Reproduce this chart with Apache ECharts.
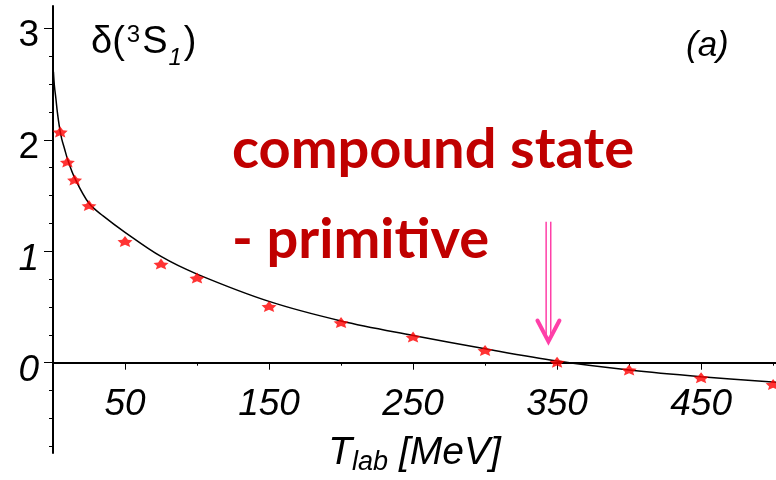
<!DOCTYPE html>
<html>
<head>
<meta charset="utf-8">
<script src="https://cdn.jsdelivr.net/npm/echarts@6/dist/echarts.min.js"></script>
<style>
html, body { margin: 0; padding: 0; background: #fff; }
#main { width: 776px; height: 480px; }
</style>
</head>
<body>
<div id="main"></div>
<script>
// red stars: phase shift points (rad) vs T_lab (MeV)
var dataT = [5, 10, 15, 25, 50, 75, 100, 150, 200, 250, 300, 350, 400, 450, 500];
var dataDelta = [2.07, 1.80, 1.64, 1.41, 1.088, 0.885, 0.76, 0.505, 0.36, 0.23, 0.11, 0.005, -0.065, -0.135, -0.195];

// black curve: compound state model
var curveT = [0.3, 1, 2, 3, 4.4, 6, 8, 10, 15, 25, 35, 50, 75, 100, 150, 200, 250, 300, 350, 400, 450, 502];
var curveDelta = [2.61, 2.48, 2.37, 2.25, 2.12, 2.01, 1.92, 1.83, 1.66, 1.43, 1.315, 1.17, 0.953, 0.795, 0.55, 0.375, 0.245, 0.125, 0.015, -0.065, -0.125, -0.175];

// tick positions
var xLabelTicks = [50, 150, 250, 350, 450];
var xMinorTicks = [100, 200, 300, 400, 500];
var yLabelTicks = [0, 1, 2, 3];
var yMinorTicks = [-0.75, -0.5, -0.25, 0.25, 0.5, 0.75, 1.25, 1.5, 1.75, 2.25, 2.5, 2.75];

// pink arrow (T, from, to)
var arrowT = [344];
var arrowFrom = [1.265];
var arrowTo = [0.19];

var yMin = -0.81, yMax = 3.2;
var gridTop = 6, gridBottom = 27, H = 480;
// x axis sits on the zero line
var zeroOffset = -(0 - yMin) / (yMax - yMin) * (H - gridTop - gridBottom);

var myChart = echarts.init(document.getElementById('main'));

var pts = [];
for (var i = 0; i < dataT.length; i++) {
    pts.push([dataT[i], dataDelta[i]]);
}
var curve = [];
for (var j = 0; j < curveT.length; j++) {
    curve.push([curveT[j], curveDelta[j]]);
}

var ff = 'Liberation Sans, Arial, sans-serif';
var pink = '#ff3fa8';

myChart.setOption({
    animation: false,
    backgroundColor: '#fff',
    title: [{
        left: 86,
        top: 11,
        text: '{n|δ(}{sup|3}{s|S}{sub|1}{n|)}',
        textStyle: {
            rich: {
                n: {fontSize: 38, fontFamily: ff, fontWeight: 'normal', color: '#000'},
                s: {fontSize: 38, fontFamily: ff, fontWeight: 'normal', color: '#000'},
                sup: {fontSize: 24, fontFamily: ff, fontWeight: 'normal', color: '#000', padding: [0, 2, 16, 2]},
                sub: {fontSize: 24, fontFamily: ff, fontStyle: 'italic', fontWeight: 'normal', color: '#000', padding: [30, 2, 0, 1]}
            }
        }
    }, {
        left: 681,
        top: 24,
        text: '(a)',
        textStyle: {fontSize: 35, fontFamily: ff, fontStyle: 'italic', fontWeight: 'normal', color: '#000'}
    }],
    grid: {left: 53, right: 0, top: gridTop, bottom: gridBottom, outerBoundsMode: 'none'},
    xAxis: [{
        type: 'value',
        min: 0,
        max: 502,
        position: 'bottom',
        offset: zeroOffset,
        axisLine: {onZero: false, lineStyle: {color: '#000', width: 2}},
        axisTick: {customValues: xLabelTicks, length: 7, lineStyle: {color: '#000', width: 1}},
        axisLabel: {
            customValues: xLabelTicks,
            margin: 23,
            fontSize: 37,
            fontStyle: 'italic',
            fontFamily: ff,
            color: '#000'
        },
        splitLine: {show: false},
        name: '{t|T}{sub|lab}{t| [MeV]}',
        nameLocation: 'middle',
        nameGap: 68,
        nameTextStyle: {
            rich: {
                t: {fontSize: 39, fontFamily: ff, fontStyle: 'italic', color: '#000'},
                sub: {fontSize: 27, fontFamily: ff, fontStyle: 'italic', color: '#000', padding: [18, 0, 0, 0]}
            }
        }
    }, {
        type: 'value',
        min: 0,
        max: 502,
        position: 'bottom',
        offset: zeroOffset,
        axisLine: {show: false, onZero: false},
        axisTick: {customValues: xMinorTicks, length: 3, lineStyle: {color: '#000', width: 1}},
        axisLabel: {show: false},
        splitLine: {show: false}
    }],
    yAxis: [{
        type: 'value',
        min: yMin,
        max: yMax,
        position: 'left',
        axisLine: {onZero: false, lineStyle: {color: '#000', width: 2}},
        axisTick: {customValues: yLabelTicks, length: 9, lineStyle: {color: '#000', width: 1}},
        axisLabel: {
            customValues: yLabelTicks,
            margin: 14,
            formatter: function (v) {
                return v >= 2 ? '{u|' + v + '}' : '{i|' + v + '}';
            },
            rich: {
                u: {fontSize: 37, fontFamily: ff, color: '#000', padding: [16, 0, 0, 0]},
                i: {fontSize: 37, fontFamily: ff, fontStyle: 'italic', color: '#000', padding: [16, 0, 0, 0]}
            }
        },
        splitLine: {show: false}
    }, {
        type: 'value',
        min: yMin,
        max: yMax,
        position: 'left',
        axisLine: {show: false, onZero: false},
        axisTick: {customValues: yMinorTicks, length: 4, lineStyle: {color: '#000', width: 1}},
        axisLabel: {show: false},
        splitLine: {show: false}
    }],
    graphic: [{
        type: 'text',
        left: 232,
        top: 122,
        style: {text: 'compound state', font: 'bold 56px Lato, sans-serif', fill: '#c00000'}
    }, {
        type: 'text',
        left: 232,
        top: 212,
        style: {text: '- primitive', font: 'bold 56px Lato, sans-serif', fill: '#c00000'}
    }],
    series: [{
        type: 'line',
        data: curve,
        showSymbol: false,
        smooth: 0.35,
        lineStyle: {color: '#000', width: 1.5},
        z: 2
    }, {
        type: 'scatter',
        data: pts,
        symbol: 'path://M0,-5 L2.5,-1.5 L6.5,-1 L3.5,1.8 L4.5,5 L0,3 L-4.5,5 L-3.5,1.8 L-6.5,-1 L-2.5,-1.5 Z',
        symbolSize: [15, 11],
        itemStyle: {color: '#ff0000'},
        z: 3
    }, {
        type: 'custom',
        data: [[arrowT[0], arrowFrom[0], arrowTo[0]]],
        renderItem: function (params, api) {
            var top = api.coord([api.value(0), api.value(1)]);
            var tip = api.coord([api.value(0), api.value(2)]);
            return {
                type: 'group',
                children: [{
                    type: 'line',
                    shape: {x1: top[0] - 2.3, y1: top[1], x2: tip[0] - 2.3, y2: tip[1] - 4},
                    style: {stroke: pink, lineWidth: 1.5}
                }, {
                    type: 'line',
                    shape: {x1: top[0] + 2.3, y1: top[1], x2: tip[0] + 2.3, y2: tip[1] - 4},
                    style: {stroke: pink, lineWidth: 1.5}
                }, {
                    type: 'polyline',
                    shape: {points: [[tip[0] - 11, tip[1] - 21], [tip[0], tip[1]], [tip[0] + 11, tip[1] - 21]]},
                    style: {stroke: pink, lineWidth: 4, fill: null, lineCap: 'round', lineJoin: 'miter'}
                }]
            };
        },
        z: 4
    }]
});
</script>
</body>
</html>
